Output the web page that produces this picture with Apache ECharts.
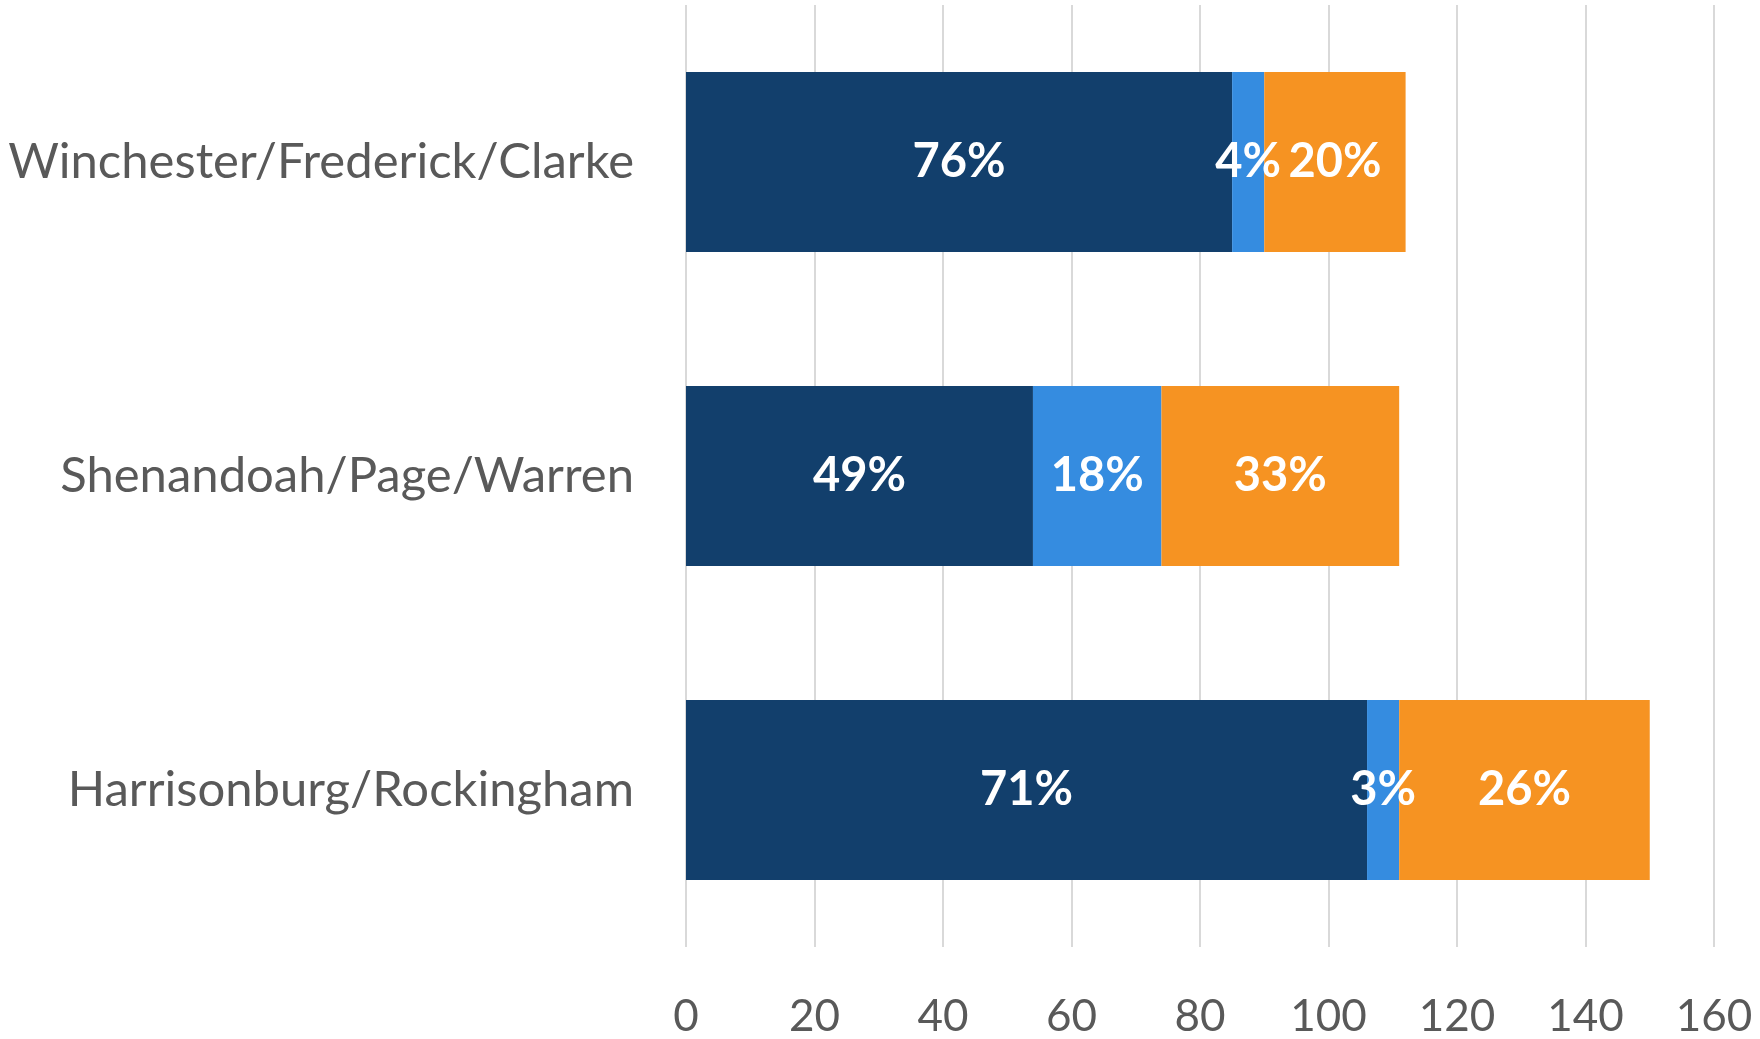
<!DOCTYPE html>
<html>
<head>
<meta charset="utf-8">
<script src="https://cdn.jsdelivr.net/npm/echarts@6/dist/echarts.min.js"></script>
<style>
  html, body { margin: 0; padding: 0; background: #fff; }
  #chart { width: 1760px; height: 1039px; }
</style>
</head>
<body>
<div id="chart"></div>
<script>
// Régions (de haut en bas)
const regions = ['Winchester/Frederick/Clarke', 'Shenandoah/Page/Warren', 'Harrisonburg/Rockingham'];
// Valeurs des trois segments empilés
const darkValues = [85, 54, 106];
const blueValues = [5, 20, 5];
const orangeValues = [22, 37, 39];
const xTicks = [0, 20, 40, 60, 80, 100, 120, 140, 160];

const totals = regions.map((r, i) => darkValues[i] + blueValues[i] + orangeValues[i]);

const chart = echarts.init(document.getElementById('chart'), null, { renderer: 'canvas' });

function pctLabel(p) {
    return Math.round(p.value / totals[p.dataIndex] * 100) + '%';
}

const labelStyle = {
    show: true,
    position: 'inside',
    color: '#ffffff',
    fontFamily: 'Lato',
    fontWeight: 'bold',
    fontSize: 47,
    offset: [0, 4],
    formatter: pctLabel
};

function makeSeries(name, data, color) {
    return {
        name: name,
        type: 'bar',
        stack: 'total',
        barWidth: 180,
        itemStyle: { color: color },
        label: labelStyle,
        labelLayout: { hideOverlap: false },
        data: data
    };
}

const option = {
    animation: false,
    grid: { left: 686, right: 46, top: 5, bottom: 89, containLabel: false },
    xAxis: {
        type: 'value',
        min: xTicks[0],
        max: xTicks[xTicks.length - 1],
        interval: 20,
        axisLine: { show: false },
        axisTick: { show: false },
        splitLine: { show: true, lineStyle: { color: '#d9d9d9', width: 2 } },
        axisLabel: { color: '#595959', fontFamily: 'Lato', fontSize: 44, margin: 48 }
    },
    yAxis: {
        type: 'category',
        inverse: true,
        data: regions,
        axisLine: { show: false },
        axisTick: { show: false },
        axisLabel: { color: '#595959', fontFamily: 'Lato', fontSize: 49, margin: 52 }
    },
    series: [
        makeSeries('dark', darkValues, '#123f6c'),
        makeSeries('blue', blueValues, '#358ce0'),
        makeSeries('orange', orangeValues, '#f69322')
    ]
};

chart.setOption(option);
window.addEventListener('resize', () => chart.resize());
</script>
</body>
</html>
